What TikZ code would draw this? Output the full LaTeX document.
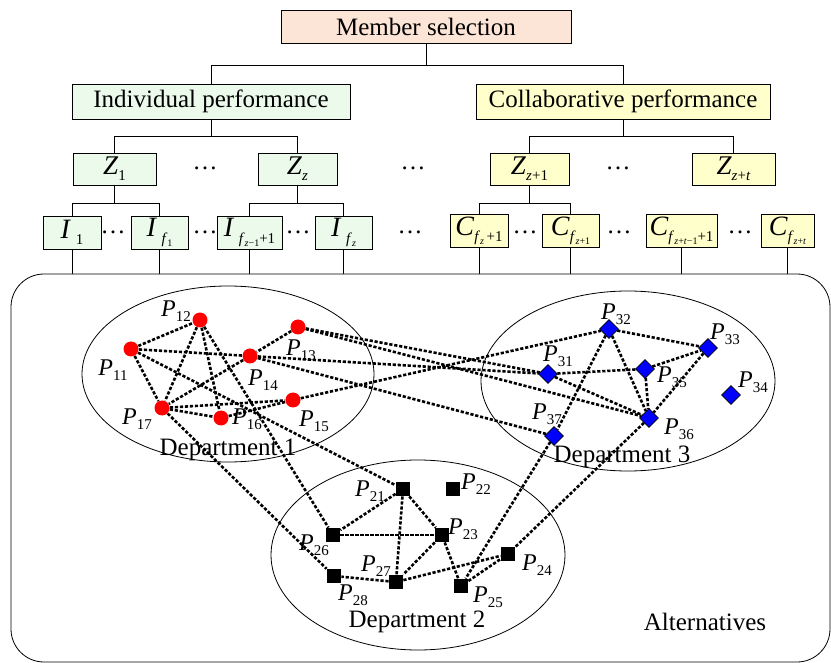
\documentclass[tikz,border=0pt]{standalone}
\usepackage{fontspec}
\setmainfont{Liberation Serif}
\usetikzlibrary{positioning,shapes.geometric}
\definecolor{mint}{RGB}{235,250,235}
\definecolor{paleyellow}{RGB}{255,255,204}
\definecolor{peach}{RGB}{252,228,214}
\newcommand{\lowi}[1]{\raisebox{-0.5ex}{\fontsize{15}{15}\selectfont #1}}
\newcommand{\lowii}[1]{\raisebox{-0.4ex}{\fontsize{10}{10}\selectfont #1}}
\newcommand{\pname}[1]{\textit{P}\lowi{#1}}
\tikzset{
    crit/.style={
           rectangle,
           draw=black, line width=0.8pt,
           inner sep=0pt,
           text centered,
           },
    indiv/.style={crit, fill=mint},
    collab/.style={crit, fill=paleyellow},
    link/.style={black, line width=2.6pt, dash pattern=on 3.2pt off 1.8pt},
    reddot/.style={circle, fill=red, inner sep=0pt, minimum size=15pt},
    blacksq/.style={rectangle, fill=black, inner sep=0pt, minimum size=14pt},
    bluedia/.style={diamond, draw=black, line width=0.6pt, fill=blue, inner sep=0pt, minimum size=19pt},
    plabel/.style={font=\fontsize{24}{26}\selectfont, inner sep=0pt},
}

\begin{document}
\begin{tikzpicture}[x=1pt,y=-1pt,line width=0.8pt]
	\useasboundingbox (0,0) rectangle (831,663);
	\tikzstyle{every node}=[font=\fontsize{25}{28}\selectfont]

	% hierarchy
	\node[crit,fill=peach,minimum width=290pt,minimum height=33pt] (ms) at (426,27) {Member selection};
	\node[indiv,minimum width=278pt,minimum height=35pt] (ind) at (211,101.5) {Individual performance};
	\node[collab,minimum width=294pt,minimum height=35pt] (col) at (623,101.5) {Collaborative performance};

	\node[indiv,minimum width=83pt,minimum height=32pt] (z1) at (114.5,169) {\fontsize{27}{30}\selectfont\textit{Z}\lowi{1}};
	\node[indiv,minimum width=79pt,minimum height=32pt] (zz) at (297.5,169) {\fontsize{27}{30}\selectfont\textit{Z}\lowi{\textit{z}}};
	\node[collab,minimum width=79pt,minimum height=32pt] (zz1) at (529.5,169) {\fontsize{27}{30}\selectfont\textit{Z}\lowi{\textit{z}+1}};
	\node[collab,minimum width=83pt,minimum height=32pt] (zzt) at (733.5,169) {\fontsize{27}{30}\selectfont\textit{Z}\lowi{\textit{z}+\textit{t}}};

	\node[indiv,minimum width=58pt,minimum height=33pt] (i1) at (72,232.5) {\fontsize{28}{30}\selectfont\textit{I}\,\lowi{1}};
	\node[indiv,minimum width=57pt,minimum height=33pt] (i2) at (159.5,232.5) {\fontsize{28}{30}\selectfont\textit{I}\,\lowi{\textit{f}\lowii{1}}};
	\node[indiv,minimum width=65pt,minimum height=33pt] (i3) at (249.5,232.5) {\fontsize{28}{30}\selectfont\textit{I}\,\lowi{\textit{f}\lowii{\textit{z}−1}+1}};
	\node[indiv,minimum width=57pt,minimum height=33pt] (i4) at (343.5,232.5) {\fontsize{28}{30}\selectfont\textit{I}\,\lowi{\textit{f}\lowii{\textit{z}}}};
	\node[collab,minimum width=58pt,minimum height=33pt] (c1) at (479,231) {\fontsize{28}{30}\selectfont\textit{C}\lowi{\textit{f}\lowii{\textit{z}}\,+1}};
	\node[collab,minimum width=57pt,minimum height=33pt] (c2) at (570.5,231) {\fontsize{28}{30}\selectfont\textit{C}\lowi{\textit{f}\lowii{\textit{z}+1}}};
	\node[collab,minimum width=71pt,minimum height=33pt] (c3) at (681.5,231) {\fontsize{28}{30}\selectfont\textit{C}\lowi{\textit{f}\lowii{\textit{z}+\textit{t}−1}+1}};
	\node[collab,minimum width=53pt,minimum height=33pt] (c4) at (787.5,231) {\fontsize{28}{30}\selectfont\textit{C}\lowi{\textit{f}\lowii{\textit{z}+\textit{t}}}};

	\foreach \x/\y [count=\k] in {205/168,413/168,618/168,113/232,205/232,298/232,410/232,525/232,619/232,740/232}
		\node (dots\k) at (\x,\y) {…};

	\draw (ms.south) -- ++(0,22) -| (ind.north);
	\draw (ms.south) -- ++(0,22) -| (col.north);
	\draw (ind.south) -- ++(0,17) -| (z1.north);
	\draw (ind.south) -- ++(0,17) -| (zz.north);
	\draw (col.south) -- ++(0,17) -| (zz1.north);
	\draw (col.south) -- ++(0,17) -| (zzt.north);
	\draw (z1.south) -- ++(0,18) -| (i1.north);
	\draw (z1.south) -- ++(0,18) -| (i2.north);
	\draw (zz.south) -- ++(0,18) -| (i3.north);
	\draw (zz.south) -- ++(0,18) -| (i4.north);
	\draw (zz1.south) -- ++(0,18) -| (c1.north);
	\draw (zz1.south) -- ++(0,18) -| (c2.north);

	% alternatives
	\node[draw,rounded corners=33pt,minimum width=819pt,minimum height=388pt] (alt) at (420.5,468) {};
	\foreach \b in {i1,i2,i3,i4,c1,c2,c3,c4}
		\draw (\b.south) -- (\b.south |- alt.north);

	\draw (228,374) ellipse [x radius=146, y radius=88];
	\draw (628,381) ellipse [x radius=147, y radius=90];
	\draw (418,555) ellipse [x radius=147, y radius=95];
	\node (d1) at (228,450) {Department 1};
	\node (d3) at (622,457) {Department 3};
	\node (d2) at (417,622) {Department 2};
	\node (altlabel) at (705,622) {Alternatives};

	% members
	\node[reddot] (p11) at (131,349) {};
	\node[reddot] (p12) at (200,320) {};
	\node[reddot] (p13) at (298,327) {};
	\node[reddot] (p14) at (250,356) {};
	\node[reddot] (p15) at (293,400) {};
	\node[reddot] (p16) at (221,418) {};
	\node[reddot] (p17) at (162,408) {};

	\node[blacksq] (p21) at (403,489) {};
	\node[blacksq] (p22) at (453,489) {};
	\node[blacksq] (p23) at (442,535) {};
	\node[blacksq] (p24) at (508,554) {};
	\node[blacksq] (p25) at (461,586) {};
	\node[blacksq] (p26) at (333,535) {};
	\node[blacksq] (p27) at (396,582) {};
	\node[blacksq] (p28) at (334,576) {};

	\node[bluedia] (p31) at (548,374) {};
	\node[bluedia] (p32) at (609,329) {};
	\node[bluedia] (p33) at (708,348) {};
	\node[bluedia] (p34) at (731,395) {};
	\node[bluedia] (p35) at (645,369) {};
	\node[bluedia] (p36) at (649,418) {};
	\node[bluedia] (p37) at (554,436) {};

	\foreach \a/\b in {p11/p12,p11/p14,p11/p17,p11/p21,p12/p17,p12/p16,p12/p26,p13/p14,p14/p17,p17/p15,p17/p16,p16/p15,p17/p28,
		p13/p31,p13/p36,p14/p31,p14/p37,p15/p32,p32/p33,p31/p35,p35/p33,p32/p36,p32/p37,p35/p36,p33/p36,p31/p36,p36/p24,p37/p25,
		p21/p26,p21/p27,p21/p23,p26/p23,p23/p27,p23/p25,p27/p28,p27/p24,p25/p24}
		\draw[link] (\a) -- (\b);

	\foreach \n/\x/\y in {11/113/370,12/176/311,13/301/350,14/263/380,15/314/421,16/247/419,17/137/419,
		21/370/491,22/476/484,23/463/529,24/537/565,25/488/597,26/314/545,27/376/566,28/353/595,
		31/558/356,32/616/314,33/725/334,34/753/382,35/672/377,36/679/429,37/547/414}
		\node[plabel] (l\n) at (\x,\y) {\pname{\n}};
\end{tikzpicture}
\end{document}
